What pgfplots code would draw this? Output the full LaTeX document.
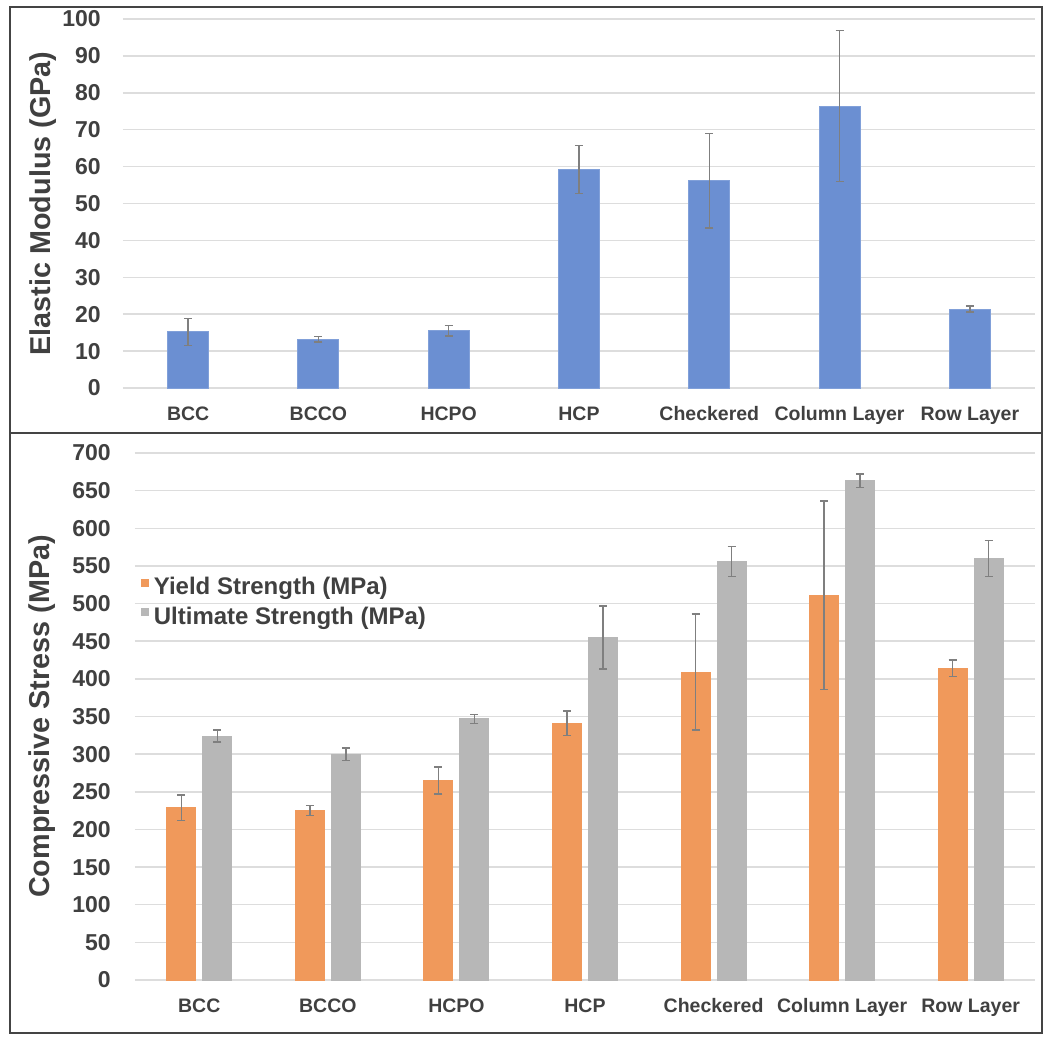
\documentclass[border=0pt]{standalone}
\usepackage{pgfplots}
\pgfplotsset{compat=1.18}
\usepackage{fontspec}
\setmainfont{Liberation Sans}
\definecolor{barblue}{HTML}{6B8FD2}
\definecolor{barorange}{HTML}{F0995B}
\definecolor{bargray}{HTML}{B7B7B7}
\definecolor{errgray}{HTML}{7F7F7F}
\definecolor{gridgray}{HTML}{DDDDDD}
\definecolor{txt}{HTML}{404040}
\definecolor{framegray}{HTML}{444444}

\pgfplotsset{
  panel/.style={
    scale only axis,
    xmin=-0.5, xmax=6.5, ymin=0,
    xtick={0,...,6},
    xticklabels={BCC,BCCO,HCPO,HCP,Checkered,Column Layer,Row Layer},
    ymajorgrids, grid style={color=gridgray, line width=0.6pt},
    axis line style={draw=none},
    major tick length=0pt,
    /pgf/number format/assume math mode=true,
    yticklabel style={font=\fontsize{9.2}{10}\selectfont\bfseries, color=txt},
    xticklabel style={font=\fontsize{7.8}{9}\selectfont\bfseries, color=txt, yshift=-4pt},
    ylabel style={font=\fontsize{11.5}{13}\selectfont\bfseries, color=txt, anchor=center},
    error bars/error bar style={color=errgray, line width=0.6pt},
    error bars/error mark options={rotate=90, mark size=1.6pt, line width=0.6pt, color=errgray},
  },
}

\begin{document}
\begin{tikzpicture}
\path (0,0) rectangle (420pt,416pt);

% top panel: elastic modulus
\begin{axis}[panel,
  at={(49.2pt,260.8pt)}, anchor=south west,
  width=364.8pt, height=147.6pt,
  ymax=100, ytick={0,10,...,100},
  yticklabel style={xshift=-5.4pt},
  ylabel={Elastic Modulus (GPa)},
  ylabel style={at={(axis description cs:-0.088,0.5)}},
  ybar, bar width=16.4pt,
]
\addplot[fill=barblue, draw=barblue!85!white,
  error bars/.cd, y dir=both, y explicit]
  coordinates {
    (0,15.2) +- (0,3.7)
    (1,13.2) +- (0,0.7)
    (2,15.5) +- (0,1.4)
    (3,59.2) +- (0,6.5)
    (4,56.2) +- (0,12.8)
    (5,76.4) +- (0,20.5)
    (6,21.4) +- (0,0.8)
  };
\end{axis}

% bottom panel: compressive stress
\begin{axis}[panel,
  at={(54pt,24pt)}, anchor=south west,
  width=360pt, height=210.8pt,
  ymax=700, ytick={0,50,...,700},
  yticklabel style={xshift=-6.2pt},
  ylabel={Compressive Stress (MPa)},
  ylabel style={at={(axis description cs:-0.103,0.5)}},
  ybar=2.8pt, bar width=11.6pt,
  legend cell align=left,
  legend style={at={(axis description cs:0.006,0.775)}, anchor=north west,
    draw=none, fill=none, font=\fontsize{9.6}{11}\selectfont\bfseries,
    text=txt, row sep=-0.6pt, inner sep=0pt,
    /tikz/every even column/.append style={column sep=1pt}},
  legend image code/.code={\fill[#1] (0pt,0.6pt) rectangle (2.8pt,3.4pt);},
]
\addplot[fill=barorange, draw=barorange,
  error bars/.cd, y dir=both, y explicit]
  coordinates {
    (0,229) +- (0,17)
    (1,225) +- (0,6.5)
    (2,265) +- (0,18)
    (3,341) +- (0,16)
    (4,409) +- (0,77)
    (5,511) +- (0,125)
    (6,414) +- (0,11)
  };
\addlegendentry{Yield Strength (MPa)}
\addplot[fill=bargray, draw=bargray,
  error bars/.cd, y dir=both, y explicit]
  coordinates {
    (0,324) +- (0,8)
    (1,300) +- (0,8.5)
    (2,347) +- (0,6)
    (3,455) +- (0,42)
    (4,556) +- (0,20)
    (5,663) +- (0,9)
    (6,560) +- (0,24)
  };
\addlegendentry{Ultimate Strength (MPa)}
\end{axis}

% panel frames
\draw[framegray, line width=0.8pt] (4pt,2.8pt) rectangle (416.8pt,413.2pt);
\draw[framegray, line width=0.8pt] (4pt,242.8pt) -- (416.8pt,242.8pt);
\end{tikzpicture}
\end{document}
